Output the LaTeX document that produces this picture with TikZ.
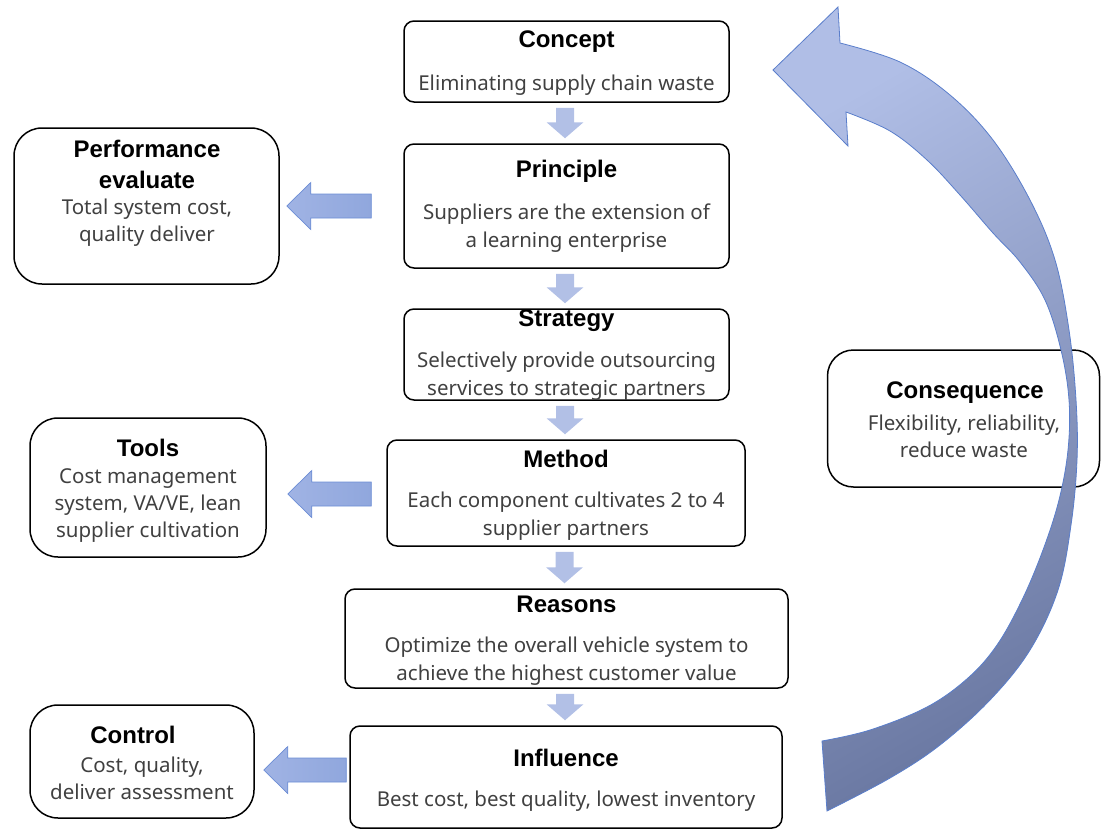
\documentclass[tikz,border=0pt]{standalone}
\usepackage{fontspec}
\setmainfont{Noto Sans}
\newfontfamily\headfont{Liberation Sans}
\usetikzlibrary{calc}
\definecolor{bodygrey}{HTML}{404040}
\definecolor{paleblue}{HTML}{B2C0E6}
\definecolor{armlight}{HTML}{A0B3E4}
\definecolor{armdark}{HTML}{90A7DD}
\definecolor{armline}{HTML}{6C8DD5}
\definecolor{curvetop}{HTML}{B0BEE6}
\definecolor{curvebot}{HTML}{6B79A3}
\definecolor{curveline}{HTML}{5A7ECB}

% block arrow pointing left: #1 tail point, #2 tip point
\newcommand\leftblock[2]{%
  \path[sidearrow] let \p1=#1, \p2=#2 in
    (\x1,\y1+12pt) -- (\x2+24pt,\y1+12pt) -- (\x2+24pt,\y1+23.5pt) -- (\x2,\y1)
    -- (\x2+24pt,\y1-23.5pt) -- (\x2+24pt,\y1-12pt) -- (\x1,\y1-12pt) -- cycle;}

% small block arrow pointing down from box #1 to box #2
\newcommand\downblock[2]{%
  \fill[paleblue] let \p1=($(#1.south)+(-1.5,5)$), \p2=($(#2.north)+(0,-5)$) in
    (\x1-9pt,\y1) -- (\x1+9pt,\y1) -- (\x1+9pt,\y2+16pt) -- (\x1+18.5pt,\y2+16pt)
    -- (\x1,\y2) -- (\x1-18.5pt,\y2+16pt) -- (\x1-9pt,\y2+16pt) -- cycle;}

\begin{document}
\begin{tikzpicture}[x=1pt,y=-1pt,
  box/.style={draw=black, line width=1.5pt, rounded corners=10pt, inner sep=0pt},
  sidebox/.style={box, rounded corners=28pt},
  head/.style={font=\headfont\bfseries\fontsize{24}{30}\selectfont, text=black, align=center, inner sep=0pt},
  body/.style={font=\fontsize{20.5}{28}\selectfont, text=bodygrey, align=center, inner sep=0pt},
  sidebody/.style={font=\fontsize{20.5}{27}\selectfont, text=bodygrey, align=center, inner sep=0pt},
  sidearrow/.style={draw=armline, line width=0.7pt, left color=armlight, right color=armdark},
  bigarrow/.style={draw=curveline, line width=0.8pt, top color=curvetop, bottom color=curvebot, shading angle=30}]
\useasboundingbox (0,0) rectangle (1101,830);

% main chain
\node[box, minimum width=325pt, minimum height=81pt]  (concept)   at (566.5,61.5) {};
\node[box, minimum width=325pt, minimum height=124pt] (principle) at (566.5,206) {};
\node[box, minimum width=325pt, minimum height=91pt]  (strategy)  at (566.5,354.5) {};
\node[box, minimum width=358pt, minimum height=106pt] (method)    at (566,493) {};
\node[box, minimum width=443pt, minimum height=99pt]  (reasons)   at (566.5,638.5) {};
\node[box, minimum width=432pt, minimum height=102pt] (influence) at (566,777) {};

% side boxes
\node[sidebox, minimum width=265pt, minimum height=156pt] (perf)    at (146.5,206) {};
\node[sidebox, minimum width=236pt, minimum height=139pt] (tools)   at (148,487.5) {};
\node[sidebox, minimum width=224pt, minimum height=113pt] (control) at (142,761.5) {};
\node[sidebox, rounded corners=26pt, minimum width=272pt, minimum height=137pt] (conseq) at (963.5,418.5) {};

% texts
\node[head] (concept-t)   at (566.5,42) {Concept};
\node[body] (concept-b)   at (566.5,85) {Eliminating supply chain waste};
\node[head] (principle-t) at (566.5,171) {Principle};
\node[body] (principle-b) at (566.5,228) {Suppliers are the extension of\\a learning enterprise};
\node[head] (strategy-t)  at (566.5,321) {Strategy};
\node[body] (strategy-b)  at (566.5,376) {Selectively provide outsourcing\\services to strategic partners};
\node[head] (method-t)    at (566,459) {Method};
\node[body] (method-b)    at (566,516) {Each component cultivates 2 to 4\\supplier partners};
\node[head] (reasons-t)   at (566.5,604) {Reasons};
\node[body] (reasons-b)   at (566.5,661.5) {Optimize the overall vehicle system to\\achieve the highest customer value};
\node[head] (influence-t) at (566,758) {Influence};
\node[body] (influence-b) at (566,801) {Best cost, best quality, lowest inventory};

\node[head, font=\headfont\bfseries\fontsize{24}{31}\selectfont] (perf-t) at (147,164) {Performance\\evaluate};
\node[sidebody] (perf-b)    at (147,223) {Total system cost,\\quality deliver};
\node[head]     (tools-t)   at (148,448) {Tools};
\node[sidebody] (tools-b)   at (148,506) {Cost management\\system, VA/VE, lean\\supplier cultivation};
\node[head]     (control-t) at (133,735) {Control};
\node[sidebody] (control-b) at (142,778) {Cost, quality,\\deliver assessment};
\node[head]     (conseq-t)  at (965,393) {Consequence};
\node[sidebody] (conseq-b)  at (964,436) {Flexibility, reliability,\\reduce waste};

% arrows down the chain
\downblock{concept}{principle}
\downblock{principle}{strategy}
\downblock{strategy}{method}
\downblock{method}{reasons}
\downblock{reasons}{influence}

% arrows to the side boxes
\leftblock{($(principle.west)+(-32,0)$)}{($(perf.east)+(7,0)$)}
\leftblock{($(method.west)+(-15,1)$)}{($(tools.east)+(21,0)$)}
\leftblock{($(influence.west)+(-3,-7)$)}{($(control.east)+(9,0)$)}

% feedback arrow from the bottom back to the top
\path[bigarrow] (773,70) -- (838,7) -- (840,43)
  -- plot[smooth, tension=0.6] coordinates {(840,43) (900,62) (950,95) (993,140) (1030,200)
      (1055,260) (1069,330) (1076,400) (1077,460) (1071,525) (1058,590) (1030,650)
      (990,700) (940,745) (890,778) (827,811)}
  -- (822,741)
  -- plot[smooth, tension=0.6] coordinates {(822,741) (870,730) (927,707) (968,678)
      (997,645) (1022,600) (1043,550) (1059,500) (1068,450) (1069,400) (1061,350)
      (1045,300) (1020,262) (993,233) (960,195) (927,160) (890,131) (846,112)}
  -- (848,146) -- cycle;
\end{tikzpicture}
\end{document}
